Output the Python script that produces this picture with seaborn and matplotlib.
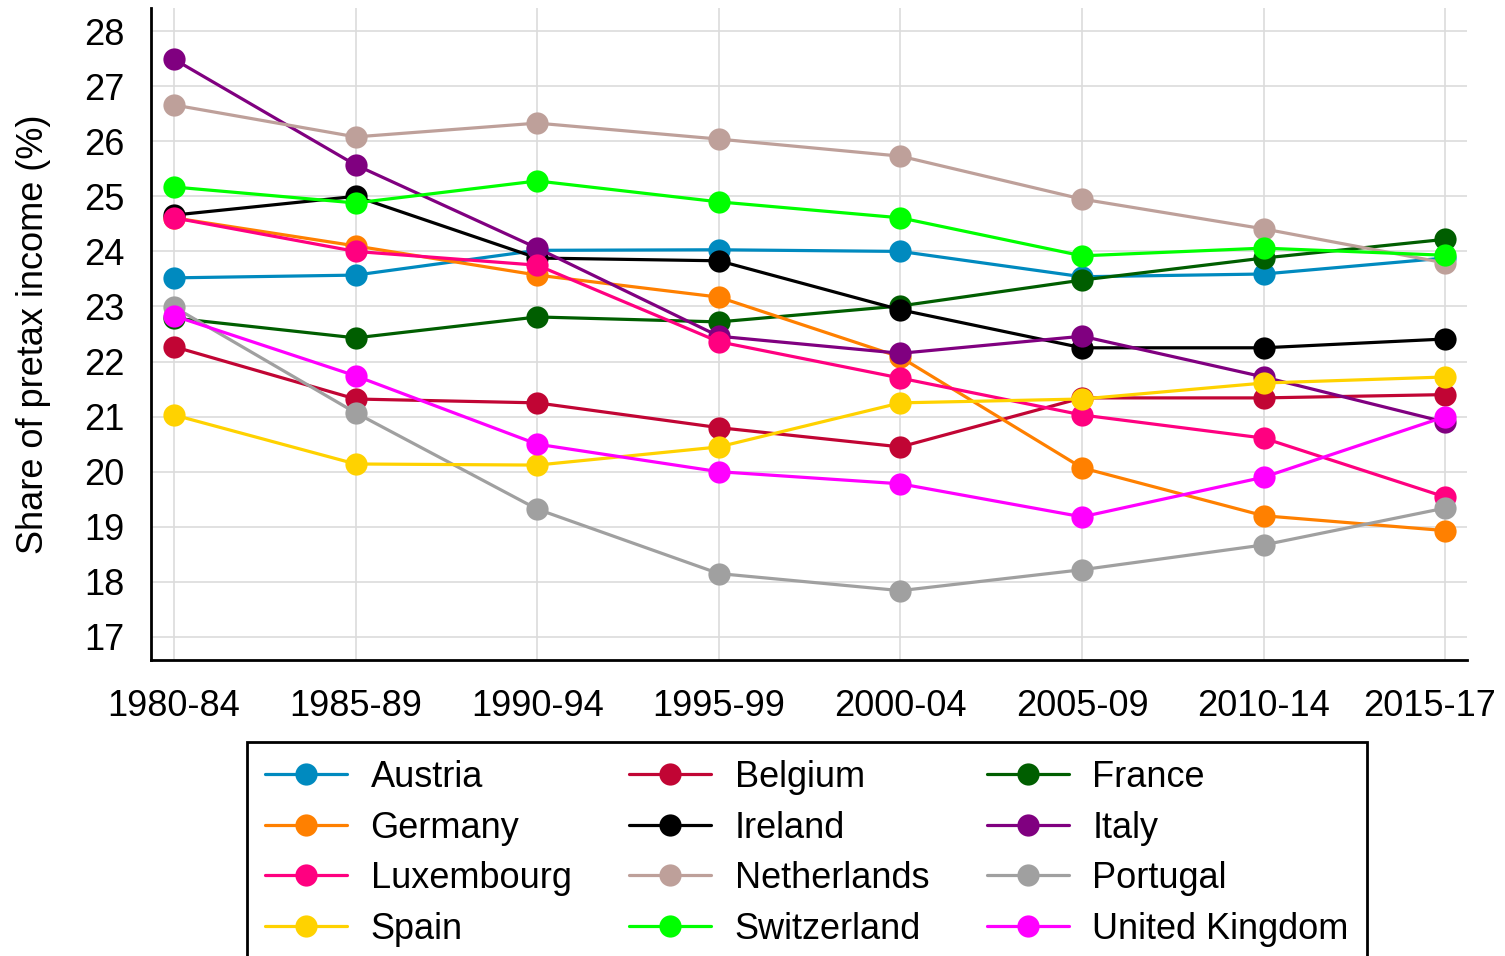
import matplotlib
matplotlib.use("Agg")
import matplotlib.pyplot as plt
import matplotlib.transforms as mtrans
import pandas as pd
import seaborn as sns

periods = ["1980-84", "1985-89", "1990-94", "1995-99", "2000-04", "2005-09", "2010-14", "2015-17"]

austria = [23.52, 23.57, 24.02, 24.03, 24.00, 23.54, 23.59, 23.88]
belgium = [22.27, 21.32, 21.25, 20.80, 20.45, 21.34, 21.34, 21.40]
france = [22.79, 22.43, 22.81, 22.72, 23.01, 23.48, 23.88, 24.22]
germany = [24.61, 24.10, 23.57, 23.17, 22.08, 20.07, 19.20, 18.93]
ireland = [24.66, 25.00, 23.88, 23.83, 22.94, 22.25, 22.25, 22.41]
italy = [27.49, 25.57, 24.06, 22.46, 22.15, 22.46, 21.72, 20.90]
luxembourg = [24.61, 24.00, 23.75, 22.36, 21.70, 21.03, 20.61, 19.54]
netherlands = [26.66, 26.08, 26.33, 26.04, 25.73, 24.95, 24.41, 23.79]
portugal = [22.99, 21.07, 19.32, 18.15, 17.84, 18.22, 18.67, 19.34]
spain = [21.03, 20.14, 20.12, 20.45, 21.25, 21.32, 21.61, 21.72]
switzerland = [25.17, 24.88, 25.28, 24.90, 24.61, 23.92, 24.06, 23.93]
uk = [22.83, 21.74, 20.50, 20.00, 19.78, 19.18, 19.90, 21.00]

countries = ["Austria", "Belgium", "France", "Germany", "Ireland", "Italy",
             "Luxembourg", "Netherlands", "Portugal", "Spain", "Switzerland", "United Kingdom"]
series = [austria, belgium, france, germany, ireland, italy,
          luxembourg, netherlands, portugal, spain, switzerland, uk]

palette = {
    "Austria": "#008ABF",
    "Belgium": "#C10534",
    "France": "#005E00",
    "Germany": "#FF8000",
    "Ireland": "#000000",
    "Italy": "#800080",
    "Luxembourg": "#FF0080",
    "Netherlands": "#BEA09A",
    "Portugal": "#A0A0A0",
    "Spain": "#FFD200",
    "Switzerland": "#00FF00",
    "United Kingdom": "#FF00FF",
}

rows = []
for c, vals in zip(countries, series):
    for i, p in enumerate(periods):
        rows.append({"country": c, "pos": i, "share": vals[i]})
df = pd.DataFrame(rows)

sns.set_style("white")
plt.rcParams["font.family"] = ["Liberation Sans", "DejaVu Sans"]
plt.rcParams["text.color"] = "black"
plt.rcParams["axes.labelcolor"] = "black"
plt.rcParams["xtick.color"] = "black"
plt.rcParams["ytick.color"] = "black"

fig = plt.figure(figsize=(15.05, 9.56), dpi=100)
ax = fig.add_axes([0.1003, 0.3096, 0.8745, 0.682])

sns.lineplot(
    data=df, x="pos", y="share", hue="country", hue_order=countries,
    palette=palette, marker="o", markersize=16, markeredgewidth=0,
    linewidth=2.3, ax=ax, legend=True
)

ax.set_xlim(-0.127, 7.12)
ax.set_ylim(16.58, 28.42)
ax.set_xticks(range(len(periods)))
ax.set_xticklabels(periods)
ax.set_yticks(range(17, 29))
ax.tick_params(axis="both", labelsize=26, length=13, width=1, color="#333333", direction="out", pad=6)
ax.tick_params(axis="x", pad=8)
ax.grid(True, color="#DCDCDC", linewidth=1.2)
ax.set_axisbelow(True)
for s in ["top", "right"]:
    ax.spines[s].set_visible(False)
for s in ["left", "bottom"]:
    ax.spines[s].set_color("black")
    ax.spines[s].set_linewidth(2)
ax.set_xlabel("")
ax.set_ylabel("Share of pretax income (%)", fontsize=26, labelpad=24)

# last period label sits a bit left so it stays inside the figure
last = ax.get_xticklabels()[-1]
last.set_transform(last.get_transform() + mtrans.ScaledTranslation(-16 / 100, 0, fig.dpi_scale_trans))

handles, labels = ax.get_legend_handles_labels()
hmap = dict(zip(labels, handles))
# legend fills column-wise, so reorder to read row-wise
order = [countries[r * 3 + c] for c in range(3) for r in range(4)]
ax.legend([hmap[k] for k in order], order, ncol=3, loc="upper left",
          bbox_to_anchor=(247 / 1505, 1 - 742 / 956), bbox_transform=fig.transFigure,
          fontsize=26, frameon=True, fancybox=False, edgecolor="black",
          framealpha=1, handlelength=2.28, handletextpad=0.64, columnspacing=1.6,
          labelspacing=0.43, borderpad=0.5, borderaxespad=0)
ax.get_legend().get_frame().set_linewidth(2)

fig.savefig("out.png", dpi=100)
